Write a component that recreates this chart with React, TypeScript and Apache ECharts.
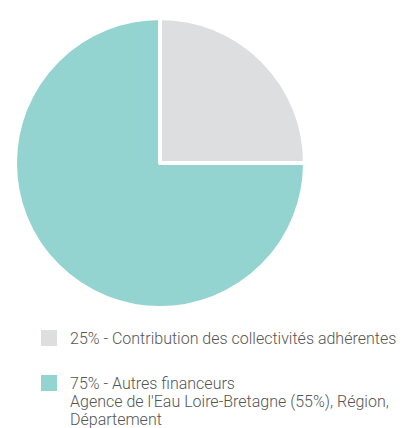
import React, { useEffect, useRef } from "react";
import * as echarts from "echarts";

const categories = [
  "25% - Contribution des collectivités adhérentes",
  "75% - Autres financeurs",
];
const values = [25, 75];
const colors = ["#dddedf", "#93d4d1"];
const subText = ["", "Agence de l'Eau Loire-Bretagne (55%), Région,\nDépartement"];

export default function App() {
  const ref = useRef<HTMLDivElement>(null);
  useEffect(() => {
    if (!ref.current) return;
    const chart = echarts.init(ref.current, null, { renderer: "svg" });
    const font = "Roboto, 'Noto Sans', sans-serif";
    const txt = { fontFamily: font, fontSize: 16, fontWeight: 300, color: "#555555", padding: [0, 0, 0, 7] };
    chart.setOption({
      animation: false,
      backgroundColor: "#ffffff",
      legend: [
        {
          data: [categories[0]],
          left: 39,
          top: 328,
          padding: 0,
          icon: "rect",
          itemWidth: 18,
          itemHeight: 18,
          selectedMode: false,
          textStyle: txt,
        },
        {
          data: [categories[1]],
          left: 39,
          top: 373,
          padding: 0,
          icon: "rect",
          itemWidth: 18,
          itemHeight: 18,
          selectedMode: false,
          textStyle: txt,
        },
      ],
      graphic: [
        {
          type: "text",
          left: 70,
          top: 392,
          style: {
            text: subText[1],
            fontFamily: font,
            fontSize: 16,
            fontWeight: 300,
            lineHeight: 18,
            fill: "#555555",
          },
        },
      ],
      series: [
        {
          type: "pie",
          center: [160, 163],
          radius: 145,
          startAngle: 90,
          clockwise: true,
          silent: true,
          label: { show: false },
          labelLine: { show: false },
          itemStyle: { borderColor: "#ffffff", borderWidth: 4 },
          data: categories.map((name, i) => ({
            name,
            value: values[i],
            itemStyle: { color: colors[i] },
          })),
        },
      ],
    });
    return () => chart.dispose();
  }, []);
  return <div ref={ref} style={{ width: 406, height: 428, position: "absolute", left: 0, top: 0 }} />;
}
